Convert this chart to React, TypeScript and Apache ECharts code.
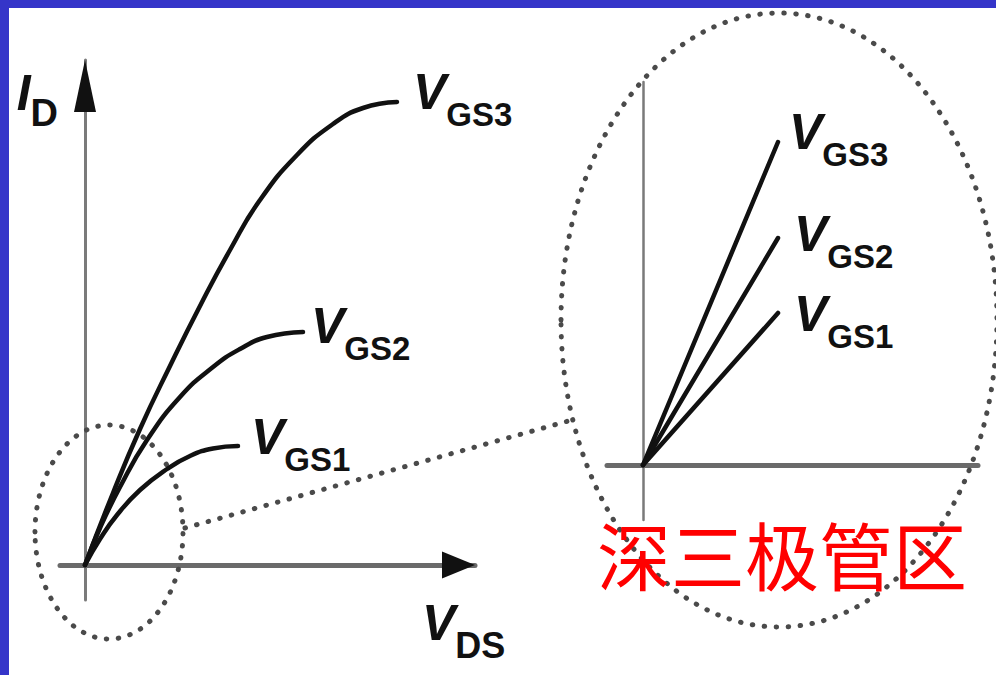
import React, { useEffect, useRef } from 'react';
import * as echarts from 'echarts';

// Output characteristics (triode region), I_D against V_DS for three gate voltages
const vdsGs3 = [0, 0.56, 1.1, 1.7, 2.3, 2.9, 3.5, 4.24, 4.96, 5.56, 6.24];
const idGs3 = [0, 1.44, 2.72, 3.98, 5.18, 6.3, 7.3, 8.2, 8.82, 9.14, 9.26];
const vdsGs2 = [0, 0.3, 0.7, 1.24, 1.9, 2.56, 3.1, 3.64, 4.36];
const idGs2 = [0, 0.74, 1.56, 2.5, 3.36, 3.96, 4.32, 4.56, 4.66];
const vdsGs1 = [0, 0.3, 0.64, 1.1, 1.64, 2.1, 2.56, 3.06];
const idGs1 = [0, 0.52, 1.0, 1.5, 1.92, 2.18, 2.33, 2.38];

// Magnified view near the origin: the curves become straight lines
const zoomVds = [0, 2.7];
const zoomIdGs3 = [0, 6.46];
const zoomIdGs2 = [0, 4.54];
const zoomIdGs1 = [0, 3.04];

const gateLabels = ['GS3', 'GS2', 'GS1'];
const regionTitle = '深三极管区';

const FONT = '"Liberation Sans", Arial, sans-serif';
const INK = '#111111';
const DOT = '#4a4a4a';

const pair = (xs: number[], ys: number[]) => xs.map((x, i) => [x, ys[i]]);

const subRich = (vSize: number, sSize: number, drop: number, vWidth?: number) => ({
  v: {
    fontFamily: FONT,
    fontSize: vSize,
    fontStyle: 'italic',
    fontWeight: 'bold',
    color: INK,
    lineHeight: vSize,
    verticalAlign: 'top',
    ...(vWidth ? { width: vWidth } : {}),
  },
  s: {
    fontFamily: FONT,
    fontSize: sSize,
    fontWeight: 'bold',
    color: INK,
    lineHeight: sSize,
    verticalAlign: 'top',
    padding: [drop, 0, 0, 0],
  },
});

const curve = (
  sub: string,
  xs: number[],
  ys: number[],
  grid: number,
  smooth: number | boolean,
  offset: number[]
) => ({
  type: 'line',
  name: 'V' + sub,
  xAxisIndex: grid,
  yAxisIndex: grid,
  data: pair(xs, ys),
  smooth,
  symbol: 'none',
  showSymbol: false,
  silent: true,
  z: 4,
  lineStyle: { color: INK, width: 4.5, cap: 'round' },
  endLabel: {
    show: true,
    distance: 0,
    offset,
    formatter: `{v|V}{s|${sub}}`,
    rich: subRich(50, 33, 31),
  },
});

const hiddenParts = {
  axisTick: { show: false },
  axisLabel: { show: false },
  splitLine: { show: false },
};

const X_MAX = 7.8;
const Y_MAX = 10.1;

export default function App() {
  const ref = useRef<HTMLDivElement>(null);

  useEffect(() => {
    if (!ref.current) return;
    const chart = echarts.init(ref.current, undefined, { renderer: 'svg' });

    chart.setOption({
      animation: false,
      backgroundColor: '#ffffff',
      grid: [
        { left: 60, right: 521, top: 60, bottom: 75 },
        { left: 607, right: 18, top: 82, bottom: 155 },
      ],
      xAxis: [
        {
          type: 'value',
          gridIndex: 0,
          min: -0.5,
          max: X_MAX,
          axisLine: { onZero: true, lineStyle: { color: '#6a6a6a', width: 5 } },
          ...hiddenParts,
          name: '{v|V}{s|DS}',
          nameLocation: 'end',
          nameGap: -53,
          nameTextStyle: {
            align: 'left',
            verticalAlign: 'top',
            padding: [33, 0, 0, 0],
            rich: subRich(50, 36, 29),
          },
        },
        {
          type: 'value',
          gridIndex: 1,
          min: -0.72,
          max: 6.7,
          axisLine: { onZero: true, lineStyle: { color: '#6a6a6a', width: 5 } },
          ...hiddenParts,
        },
      ],
      yAxis: [
        {
          type: 'value',
          gridIndex: 0,
          min: -0.7,
          max: Y_MAX,
          axisLine: { onZero: true, lineStyle: { color: '#7a7a7a', width: 3 } },
          ...hiddenParts,
          name: '{v|I}{s|D}',
          nameLocation: 'end',
          nameGap: -57.5,
          nameTextStyle: {
            align: 'right',
            verticalAlign: 'bottom',
            padding: [0, 27, 0, 0],
            rich: subRich(50, 38, 26, 14),
          },
        },
        {
          type: 'value',
          gridIndex: 1,
          min: -1.1,
          max: 7.66,
          axisLine: { onZero: true, lineStyle: { color: '#7a7a7a', width: 2.5 } },
          ...hiddenParts,
        },
      ],
      series: [
        curve(gateLabels[0], vdsGs3, idGs3, 0, 0.5, [16, -10]),
        curve(gateLabels[1], vdsGs2, idGs2, 0, 0.5, [8, -6]),
        curve(gateLabels[2], vdsGs1, idGs1, 0, 0.5, [13, -9.5]),
        curve(gateLabels[0], zoomVds, zoomIdGs3, 1, false, [11, -10.5]),
        curve(gateLabels[1], zoomVds, zoomIdGs2, 1, false, [16, -4]),
        curve(gateLabels[2], zoomVds, zoomIdGs1, 1, false, [16, 1]),
      ],
    });

    // Arrowheads at the ends of the main axes
    const xEnd = chart.convertToPixel({ gridIndex: 0 }, [X_MAX, 0]) as number[];
    const yEnd = chart.convertToPixel({ gridIndex: 0 }, [0, Y_MAX]) as number[];

    const dotted = {
      fill: 'none',
      stroke: DOT,
      lineWidth: 5,
      lineDash: [0.5, 11.5],
      lineCap: 'round',
    };

    chart.setOption({
      graphic: [
        { type: 'rect', z: 200, shape: { x: 0, y: 0, width: 996, height: 8 }, style: { fill: '#3535c9' } },
        { type: 'rect', z: 200, shape: { x: 0, y: 0, width: 9, height: 675 }, style: { fill: '#3535c9' } },
        {
          type: 'polygon',
          z: 100,
          shape: {
            points: [
              [xEnd[0], xEnd[1]],
              [xEnd[0] - 33, xEnd[1] - 13.5],
              [xEnd[0] - 33, xEnd[1] + 13.5],
            ],
          },
          style: { fill: INK },
        },
        {
          type: 'polygon',
          z: 100,
          shape: {
            points: [
              [yEnd[0], yEnd[1]],
              [yEnd[0] - 11, yEnd[1] + 52],
              [yEnd[0] + 11, yEnd[1] + 52],
            ],
          },
          style: { fill: INK },
        },
        { type: 'ellipse', z: 1, shape: { cx: 109, cy: 532, rx: 74, ry: 107 }, style: dotted },
        { type: 'ellipse', z: 1, shape: { cx: 779, cy: 320, rx: 218, ry: 307 }, style: dotted },
        { type: 'line', z: 1, shape: { x1: 185, y1: 528, x2: 572, y2: 420 }, style: dotted },
        {
          type: 'text',
          z: 50,
          style: {
            text: regionTitle,
            x: 782,
            y: 552,
            align: 'center',
            verticalAlign: 'middle',
            textAlign: 'center',
            textVerticalAlign: 'middle',
            fontSize: 74,
            fontFamily: '"Noto Sans CJK SC", sans-serif',
            fill: '#ff0000',
          },
        },
      ],
    });

    return () => chart.dispose();
  }, []);

  return (
    <div
      ref={ref}
      style={{ position: 'absolute', left: 0, top: 0, width: 996, height: 675, background: '#ffffff' }}
    />
  );
}
